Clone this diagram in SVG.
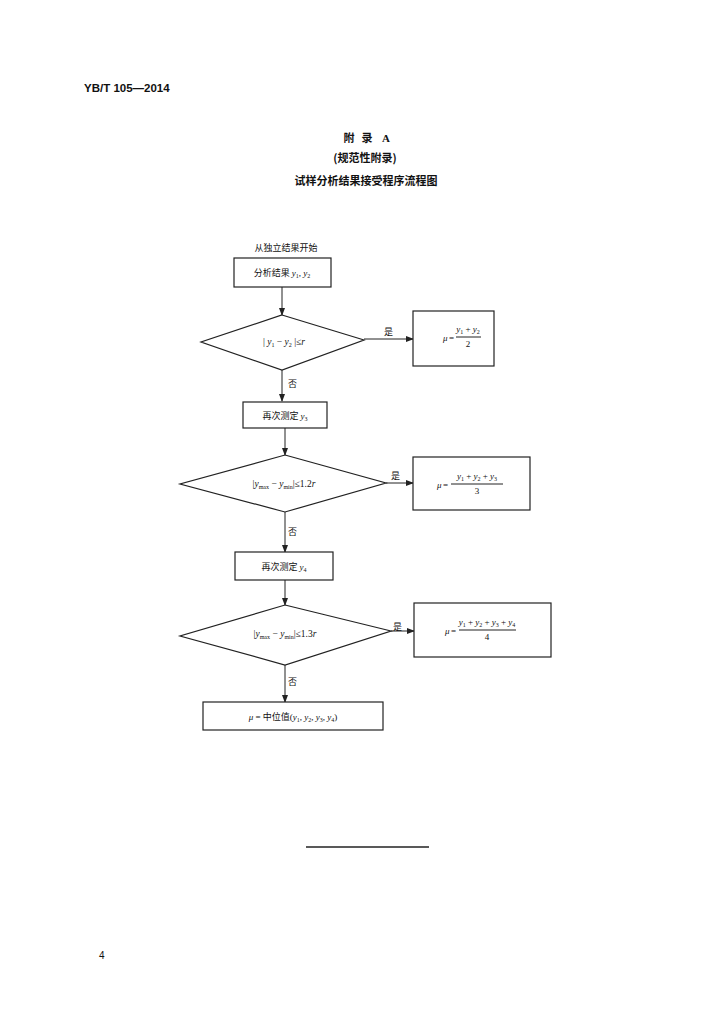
<svg xmlns="http://www.w3.org/2000/svg" width="724" height="1024" viewBox="0 0 724 1024">
<style>
.bg{fill:#ffffff}
.box{fill:#ffffff;stroke:#222;stroke-width:1.2}
.ln{stroke:#222;stroke-width:1;fill:none}
.cj{font-family:"Noto Sans CJK SC","Liberation Sans",sans-serif;fill:#111}
.m{font-family:"Liberation Serif",serif;fill:#111}
.i{font-style:italic}
.t{font-size:9px}
.h{font-size:11px;font-weight:bold}
</style>
<defs>
<marker id="ah" markerWidth="8" markerHeight="6" refX="7" refY="3" orient="auto" markerUnits="userSpaceOnUse">
<path d="M0,0 L8,3 L0,6 Z" fill="#222"/>
</marker>
</defs>
<rect class="bg" x="0" y="0" width="724" height="1024"/>
<g id="header">
<text x="84" y="92" font-family="Liberation Sans,sans-serif" font-size="11.5" font-weight="bold" fill="#111">YB/T 105—2014</text>
<text x="349" y="142" class="cj h" text-anchor="middle">附</text>
<text x="367" y="142" class="cj h" text-anchor="middle">录</text>
<text x="386" y="142" class="m h" text-anchor="middle">A</text>
<text x="365" y="162" class="cj h" text-anchor="middle">(规范性附录)</text>
<text x="366" y="185" class="cj h" text-anchor="middle">试样分析结果接受程序流程图</text>
</g>
<g id="connectors">
<line class="ln" x1="282" y1="287" x2="282" y2="315" marker-end="url(#ah)"/>
<line class="ln" x1="364" y1="339" x2="413" y2="339" marker-end="url(#ah)"/>
<line class="ln" x1="282" y1="370" x2="282" y2="401" marker-end="url(#ah)"/>
<line class="ln" x1="285" y1="428" x2="285" y2="455" marker-end="url(#ah)"/>
<line class="ln" x1="386" y1="483" x2="413" y2="483" marker-end="url(#ah)"/>
<line class="ln" x1="285" y1="512" x2="285" y2="552" marker-end="url(#ah)"/>
<line class="ln" x1="285" y1="580" x2="285" y2="605" marker-end="url(#ah)"/>
<line class="ln" x1="391" y1="631" x2="414" y2="631" marker-end="url(#ah)"/>
<line class="ln" x1="285" y1="665" x2="285" y2="702" marker-end="url(#ah)"/>
<text x="384" y="335" class="cj t">是</text>
<text x="391" y="479" class="cj t">是</text>
<text x="393" y="630" class="cj t">是</text>
<text x="288" y="387" class="cj t">否</text>
<text x="288" y="535" class="cj t">否</text>
<text x="288" y="685" class="cj t">否</text>
</g>
<g id="start">
<text x="286" y="251" class="cj t" text-anchor="middle">从独立结果开始</text>
</g>
<g id="n1">
<rect class="box" x="234" y="258" width="97" height="29"/>
<text x="282" y="276" class="cj t" text-anchor="middle">分析结果 <tspan class="m i">y</tspan><tspan class="m" font-size="6" dy="2">1</tspan><tspan class="m" dy="-2">, </tspan><tspan class="m i">y</tspan><tspan class="m" font-size="6" dy="2">2</tspan></text>
</g>
<g id="d1">
<polygon class="box" points="282,315 364,340 282,370 201,342"/>
<text x="284" y="345" class="m" font-size="9.5" text-anchor="middle">|<tspan class="i"> y</tspan><tspan font-size="6" dy="2">1</tspan><tspan dy="-2"> − </tspan><tspan class="i">y</tspan><tspan font-size="6" dy="2">2</tspan><tspan dy="-2"> |≤</tspan><tspan class="i">r</tspan></text>
</g>
<g id="r1">
<rect class="box" x="413" y="311" width="81" height="55"/>
<text x="443" y="341" class="m t i">μ</text><text x="449" y="341" class="m t">=</text>
<text x="468" y="332" class="m t" text-anchor="middle"><tspan class="i">y</tspan><tspan font-size="6" dy="1.5">1</tspan><tspan dy="-1.5"> + </tspan><tspan class="i">y</tspan><tspan font-size="6" dy="1.5">2</tspan></text>
<line class="ln" x1="456" y1="337" x2="481" y2="337" stroke-width="0.7"/>
<text x="468" y="347" class="m t" text-anchor="middle">2</text>
</g>
<g id="n2">
<rect class="box" x="243" y="402" width="84" height="26"/>
<text x="285" y="419" class="cj t" text-anchor="middle">再次测定 <tspan class="m i">y</tspan><tspan class="m" font-size="6" dy="2">3</tspan></text>
</g>
<g id="d2">
<polygon class="box" points="285,455 386,483 285,512 180,484"/>
<text x="284" y="487" class="m" font-size="9.5" text-anchor="middle">|<tspan class="i">y</tspan><tspan font-size="6" dy="2">max</tspan><tspan dy="-2"> − </tspan><tspan class="i">y</tspan><tspan font-size="6" dy="2">min</tspan><tspan dy="-2">|≤1.2</tspan><tspan class="i">r</tspan></text>
</g>
<g id="r2">
<rect class="box" x="413" y="457" width="117" height="53"/>
<text x="437" y="488" class="m t i">μ</text><text x="443" y="488" class="m t">=</text>
<text x="477" y="479" class="m t" text-anchor="middle"><tspan class="i">y</tspan><tspan font-size="6" dy="1.5">1</tspan><tspan dy="-1.5"> + </tspan><tspan class="i">y</tspan><tspan font-size="6" dy="1.5">2</tspan><tspan dy="-1.5"> + </tspan><tspan class="i">y</tspan><tspan font-size="6" dy="1.5">3</tspan></text>
<line class="ln" x1="451" y1="484" x2="503" y2="484" stroke-width="0.7"/>
<text x="477" y="494" class="m t" text-anchor="middle">3</text>
</g>
<g id="n3">
<rect class="box" x="235" y="552" width="98" height="28"/>
<text x="284" y="570" class="cj t" text-anchor="middle">再次测定 <tspan class="m i">y</tspan><tspan class="m" font-size="6" dy="2">4</tspan></text>
</g>
<g id="d3">
<polygon class="box" points="285,605 391,631 285,665 180,636"/>
<text x="285" y="637" class="m" font-size="9.5" text-anchor="middle">|<tspan class="i">y</tspan><tspan font-size="6" dy="2">max</tspan><tspan dy="-2"> − </tspan><tspan class="i">y</tspan><tspan font-size="6" dy="2">min</tspan><tspan dy="-2">|≤1.3</tspan><tspan class="i">r</tspan></text>
</g>
<g id="r3">
<rect class="box" x="414" y="603" width="137" height="54"/>
<text x="445" y="634" class="m t i">μ</text><text x="451" y="634" class="m t">=</text>
<text x="487" y="625" class="m t" text-anchor="middle"><tspan class="i">y</tspan><tspan font-size="6" dy="1.5">1</tspan><tspan dy="-1.5"> + </tspan><tspan class="i">y</tspan><tspan font-size="6" dy="1.5">2</tspan><tspan dy="-1.5"> + </tspan><tspan class="i">y</tspan><tspan font-size="6" dy="1.5">3</tspan><tspan dy="-1.5"> + </tspan><tspan class="i">y</tspan><tspan font-size="6" dy="1.5">4</tspan></text>
<line class="ln" x1="459" y1="630" x2="516" y2="630" stroke-width="0.7"/>
<text x="487" y="640" class="m t" text-anchor="middle">4</text>
</g>
<g id="n4">
<rect class="box" x="203" y="702" width="180" height="28"/>
<text x="293" y="720" class="m t" text-anchor="middle"><tspan class="i">μ</tspan> = <tspan class="cj">中位值</tspan>(<tspan class="i">y</tspan><tspan font-size="6" dy="2">1</tspan><tspan dy="-2">, </tspan><tspan class="i">y</tspan><tspan font-size="6" dy="2">2</tspan><tspan dy="-2">, </tspan><tspan class="i">y</tspan><tspan font-size="6" dy="2">3</tspan><tspan dy="-2">, </tspan><tspan class="i">y</tspan><tspan font-size="6" dy="2">4</tspan><tspan dy="-2">)</tspan></text>
</g>
<g id="footer">
<line x1="306" y1="847" x2="429" y2="847" stroke="#222" stroke-width="1.5"/>
<text x="99" y="959" font-size="10" font-family="Liberation Sans,sans-serif" fill="#111">4</text>
</g>
</svg>
